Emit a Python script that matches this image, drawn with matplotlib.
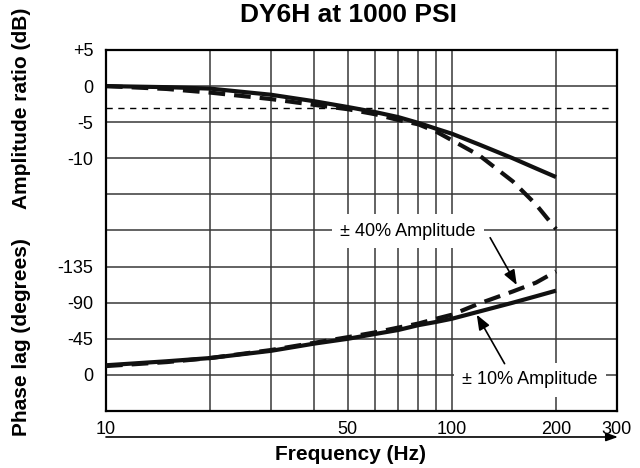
import matplotlib
matplotlib.use("Agg")
import matplotlib.pyplot as plt
import numpy as np

plt.rcParams['font.family'] = ['Liberation Sans', 'DejaVu Sans']
plt.rcParams['lines.scale_dashes'] = False

# frequency points (Hz)
freq = [10, 15, 20, 30, 40, 50, 60, 70, 80, 90, 100, 120, 150, 175, 200]

# amplitude ratio (dB)
amp_10 = [0, -0.15, -0.35, -1.2, -2.1, -2.9, -3.6, -4.3, -5.1, -5.9, -6.6, -8.1, -10.0, -11.4, -12.6]
amp_40 = [0, -0.4, -0.9, -1.8, -2.6, -3.2, -3.9, -4.7, -5.3, -6.3, -7.5, -9.6, -13.2, -16.4, -19.8]

# phase lag (degrees)
phase_10 = [-12, -17, -21, -30, -39, -45, -51, -56, -62, -66, -70, -79, -90, -98, -105]
phase_40 = [-11, -16, -21, -31, -40, -47, -53, -59, -64, -70, -75, -89, -104, -115, -129]

amp_ticks = [5, 0, -5, -10]
amp_labels = ["+5", "0", "-5", "-10"]
phase_ticks = [0, -45, -90, -135]
phase_labels = ["0", "-45", "-90", "-135"]
x_ticks = [10, 50, 100, 200, 300]
x_minor = [20, 30, 40, 60, 70, 80, 90]
cutoff_db = -3

grid_color = '#383838'

fig = plt.figure(figsize=(6.4, 4.68), dpi=100)
ax = fig.add_axes([0.1656, 0.1218, 0.7984, 0.7714])

ax.set_xscale('log')
ax.set_xlim(10, 300)
ax.set_ylim(-45, 5)

ax.set_xticks(x_ticks)
ax.set_xticklabels([str(t) for t in x_ticks])
ax.set_xticks(x_minor, minor=True)
ax.set_xticklabels([], minor=True)

grid_y = np.arange(-45, 6, 5)
ax.set_yticks(grid_y)
ax.set_yticklabels([amp_labels[amp_ticks.index(v)] if v in amp_ticks else "" for v in grid_y])

ax.grid(True, which='both', color=grid_color, lw=1.1, zorder=1)
ax.tick_params(axis='both', which='both', length=0, labelsize=13)
ax.tick_params(axis='x', pad=7)
ax.tick_params(axis='y', pad=9)
for s in ax.spines.values():
    s.set_linewidth(1.6)
    s.set_zorder(5)

ax.axhline(cutoff_db, xmin=0, xmax=0.985, color='black', lw=1, dashes=(4.5, 4), zorder=2)

ax.plot(freq, amp_10, color='#111111', lw=3, zorder=3, solid_capstyle='butt')
ax.plot(freq, amp_40, color='#111111', lw=3, dashes=(12, 6.5), zorder=3)

# phase on a second scale sharing the same frame
ax2 = ax.twinx()
ax2.set_ylim(45, -405)
ax2.yaxis.tick_left()
ax2.set_yticks(phase_ticks)
ax2.set_yticklabels(phase_labels)
ax2.tick_params(axis='y', length=0, labelsize=13, pad=9)
for s in ax2.spines.values():
    s.set_visible(False)

ax2.plot(freq, phase_10, color='#111111', lw=3, zorder=3, solid_capstyle='butt')
ax2.plot(freq, phase_40, color='#111111', lw=3, dashes=(12, 6.5), zorder=3)

box = dict(facecolor='white', edgecolor='none', pad=6)
arrow = dict(arrowstyle='-|>,head_length=0.9,head_width=0.35', color='black', lw=1.2,
             shrinkA=0, shrinkB=0)

ax2.text(74.6, -179, "± 40% Amplitude", fontsize=13, ha='center', va='center', bbox=box, zorder=6)
ax2.annotate("", xy=(154, -112), xytext=(129, -171), arrowprops=arrow, zorder=6)

ax2.text(168, 6, "± 10% Amplitude", fontsize=13, ha='center', va='center', bbox=box, zorder=6)
ax2.annotate("", xy=(118, -75), xytext=(142, -14), arrowprops=arrow, zorder=6)

# frequency arrow under the axis
ax.annotate("", xy=(1.002, -0.072), xytext=(0, -0.072), xycoords='axes fraction',
            arrowprops=dict(arrowstyle='-|>,head_length=0.7,head_width=0.25', color='black', lw=1.2,
                            shrinkA=0, shrinkB=0),
            annotation_clip=False)

fig.text(0.545, 0.967, "DY6H at 1000 PSI", fontsize=19, fontweight='bold', ha='center', va='center')
fig.text(0.547, 0.017, "Frequency (Hz)", fontsize=15, fontweight='bold', ha='center', va='baseline')
fig.text(0.034, 0.769, "Amplitude ratio (dB)", fontsize=15, fontweight='bold', rotation=90,
         ha='center', va='center')
fig.text(0.034, 0.28, "Phase lag (degrees)", fontsize=15, fontweight='bold', rotation=90,
         ha='center', va='center')

fig.savefig("out.png", dpi=100)
